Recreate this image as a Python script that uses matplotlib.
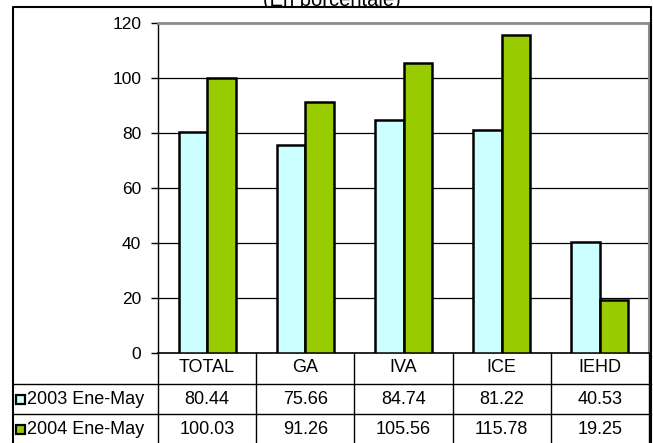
import matplotlib
matplotlib.use("Agg")
import matplotlib.pyplot as plt
from matplotlib.lines import Line2D
from matplotlib.patches import Rectangle
from matplotlib.transforms import blended_transform_factory, Bbox

plt.rcParams['font.family'] = ['Liberation Sans', 'DejaVu Sans']

# ---- data ----
categories = ["TOTAL", "GA", "IVA", "ICE", "IEHD"]
series_names = ["2003 Ene-May", "2004 Ene-May"]
values_2003 = [80.44, 75.66, 84.74, 81.22, 40.53]
values_2004 = [100.03, 91.26, 105.56, 115.78, 19.25]
yticks = [0, 20, 40, 60, 80, 100, 120]
title = "(En porcentaje)"

colors = ["#CCFFFF", "#99CC00"]

W, H = 653, 443
fig = plt.figure(figsize=(W / 100, H / 100), dpi=100)

def fx(px):
    return px / W

def fy(py):
    return (H - py) / H

ax_left, ax_right, ax_top, ax_bottom = 158, 649, 23, 353
ax = fig.add_axes([fx(ax_left), fy(ax_bottom), fx(ax_right - ax_left), (ax_bottom - ax_top) / H])

n = len(categories)
x = list(range(n))
bw = 0.29
ax.bar([i - bw / 2 for i in x], values_2003, width=bw, color=colors[0],
       edgecolor="black", linewidth=1.8, zorder=3)
ax.bar([i + bw / 2 for i in x], values_2004, width=bw, color=colors[1],
       edgecolor="black", linewidth=1.8, zorder=3)

ax.set_xlim(-0.5, n - 0.5)
ax.set_ylim(0, 120)
ax.set_yticks(yticks)
ax.set_yticklabels([str(t) for t in yticks], fontsize=12.5)
ax.set_xticks([])
ax.tick_params(axis='y', length=5, width=1, pad=7, direction='out')
for t in yticks[1:-1]:
    ax.axhline(t, color="black", linewidth=0.9, zorder=1)
ax.spines['left'].set_color("black")
ax.spines['left'].set_linewidth(1.0)
ax.spines['bottom'].set_color("black")
ax.spines['bottom'].set_linewidth(1.2)
ax.spines['top'].set_color("#8c8c8c")
ax.spines['top'].set_linewidth(2.0)
ax.spines['right'].set_color("#8c8c8c")
ax.spines['right'].set_linewidth(1.5)

# ---- data table below ----
bt = blended_transform_factory(ax.transData, fig.transFigure)
row_lines = [384, 414]
header_y = 368
row_ys = [399, 429]
frame_left, frame_top, frame_right = 13, 7, 651
fs_table = 13

# vertical column lines
for b in [i - 0.5 for i in range(n)] + [n - 0.5]:
    fig.add_artist(Line2D([b, b], [fy(ax_bottom), fy(H + 5)], transform=bt,
                          color="black", linewidth=1.0))
# horizontal row lines
for ry in row_lines:
    fig.add_artist(Line2D([fx(frame_left), fx(frame_right)], [fy(ry), fy(ry)],
                          transform=fig.transFigure, color="black", linewidth=1.0))

for i, c in enumerate(categories):
    fig.text(i, fy(header_y), c, transform=bt, ha="center", va="center", fontsize=fs_table)
for r, vals in enumerate([values_2003, values_2004]):
    for i, v in enumerate(vals):
        fig.text(i, fy(row_ys[r]), f"{v:.2f}", transform=bt, ha="center",
                 va="center", fontsize=fs_table)
    # legend key
    fig.add_artist(Rectangle((fx(16), fy(row_ys[r] + 5)), fx(9), 9 / H,
                             transform=fig.transFigure, facecolor=colors[r],
                             edgecolor="black", linewidth=1.6))
    fig.text(fx(27), fy(row_ys[r]), series_names[r], ha="left", va="center",
             fontsize=fs_table)

# ---- outer frame ----
fig.add_artist(Line2D([fx(frame_left), fx(frame_left), fx(frame_right), fx(frame_right)],
                      [fy(H + 5), fy(frame_top), fy(frame_top), fy(H + 5)],
                      transform=fig.transFigure, color="black", linewidth=1.5))

# ---- title (cut off at top in the reference) ----
tt = fig.text(fx(332), fy(frame_top - 0.5), title, ha="center", va="baseline", fontsize=14.5)
tt.set_clip_box(Bbox.from_extents(0, H - frame_top, W, H + 20))
tt.set_clip_on(True)

fig.savefig("out.png", dpi=100)
